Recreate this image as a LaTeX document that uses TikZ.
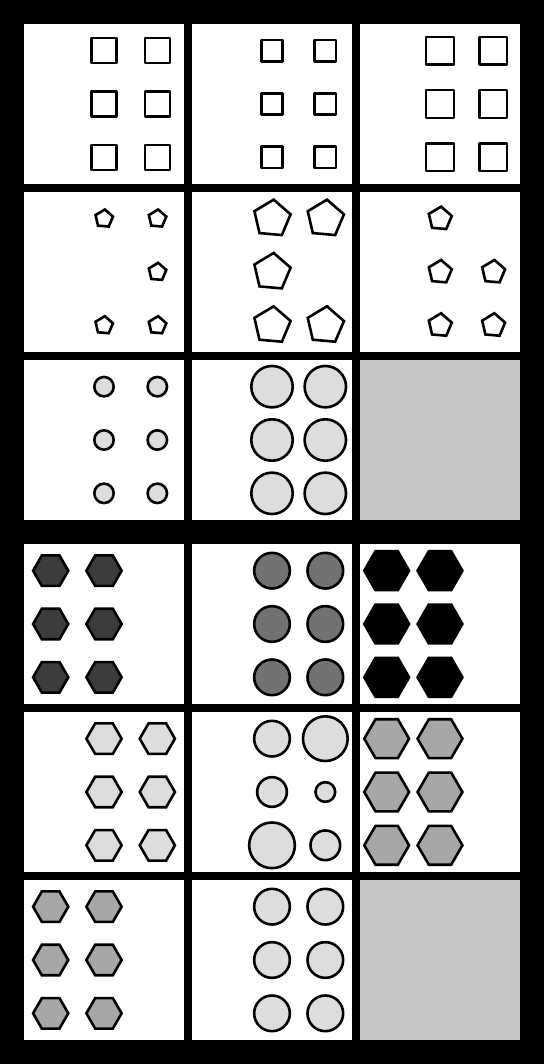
\documentclass[tikz,border=0pt]{standalone}
\definecolor{lite}{HTML}{DDDDDD}
\definecolor{midg}{HTML}{A7A7A7}
\definecolor{cgray}{HTML}{727272}
\definecolor{darkg}{HTML}{3C3C3C}
\definecolor{empt}{HTML}{C6C6C6}
\newcommand\mysq[3]{\draw[shp,line join=round] ({#1-#3/2},{#2-#3/2}) rectangle ++(#3,#3);}
\newcommand\myhex[4]{\draw[shp,fill=#4] (#1,#2) +(0:#3) -- +(60:#3) -- +(120:#3) -- +(180:#3) -- +(240:#3) -- +(300:#3) -- cycle;}
\newcommand\mypent[3]{\draw[shp] (#1,#2) +(-85:#3) -- +(-13:#3) -- +(59:#3) -- +(131:#3) -- +(203:#3) -- cycle;}
\newcommand\mycirc[4]{\draw[shp,fill=#4] (#1,#2) circle[radius=#3];}
\begin{document}
\begin{tikzpicture}[x=1pt,y=-1pt,shp/.style={draw=black,line width=2.6pt}]
\fill[black] (0,0) rectangle (544,1064);
\useasboundingbox (0,0) rectangle (544,1064);
\foreach \px in {24,192,360}{\foreach \py in {24,192,360,544,712,880}{\fill[white] (\px,\py) rectangle ++(160,160);}}
\fill[empt] (360,360) rectangle ++(160,160);
\fill[empt] (360,880) rectangle ++(160,160);
% row 1: squares
\foreach \y in {50.67,104,157.33}{
  \mysq{104}{\y}{25}\mysq{157.33}{\y}{25}
  \mysq{272}{\y}{21.4}\mysq{325.33}{\y}{21.4}
  \mysq{440}{\y}{27.7}\mysq{493.33}{\y}{27.7}}
% row 2: pentagons
\mypent{104}{218.67}{9.2}\mypent{157.33}{218.67}{9.2}
\mypent{157.33}{272}{9.2}
\mypent{104}{325.33}{9.2}\mypent{157.33}{325.33}{9.2}
\mypent{272}{218.67}{19.1}\mypent{325.33}{218.67}{19.1}
\mypent{272}{272}{19.1}
\mypent{272}{325.33}{19.1}\mypent{325.33}{325.33}{19.1}
\mypent{440}{218.67}{12.1}
\mypent{440}{272}{12.1}\mypent{493.33}{272}{12.1}
\mypent{440}{325.33}{12.1}\mypent{493.33}{325.33}{12.1}
% row 3: circles
\foreach \y in {386.67,440,493.33}{
  \mycirc{104}{\y}{9.7}{lite}\mycirc{157.33}{\y}{9.7}{lite}
  \mycirc{272}{\y}{20.7}{lite}\mycirc{325.33}{\y}{20.7}{lite}}
% row 4
\foreach \y in {570.67,624,677.33}{
  \myhex{50.67}{\y}{17.6}{darkg}\myhex{104}{\y}{17.6}{darkg}
  \mycirc{272}{\y}{17.85}{cgray}\mycirc{325.33}{\y}{17.85}{cgray}
  \myhex{386.67}{\y}{22.4}{black}\myhex{440}{\y}{22.4}{black}}
% row 5
\foreach \y in {738.67,792,845.33}{
  \myhex{104}{\y}{17.6}{lite}\myhex{157.33}{\y}{17.6}{lite}
  \myhex{386.67}{\y}{22.4}{midg}\myhex{440}{\y}{22.4}{midg}}
\mycirc{272}{738.67}{17.85}{lite}\mycirc{325.33}{738.67}{22.35}{lite}
\mycirc{272}{792}{14.85}{lite}\mycirc{325.33}{792}{9.85}{lite}
\mycirc{272}{845.33}{22.85}{lite}\mycirc{325.33}{845.33}{14.85}{lite}
% row 6
\foreach \y in {906.67,960,1013.33}{
  \myhex{50.67}{\y}{17.6}{midg}\myhex{104}{\y}{17.6}{midg}
  \mycirc{272}{\y}{17.85}{lite}\mycirc{325.33}{\y}{17.85}{lite}}
\end{tikzpicture}
\end{document}
